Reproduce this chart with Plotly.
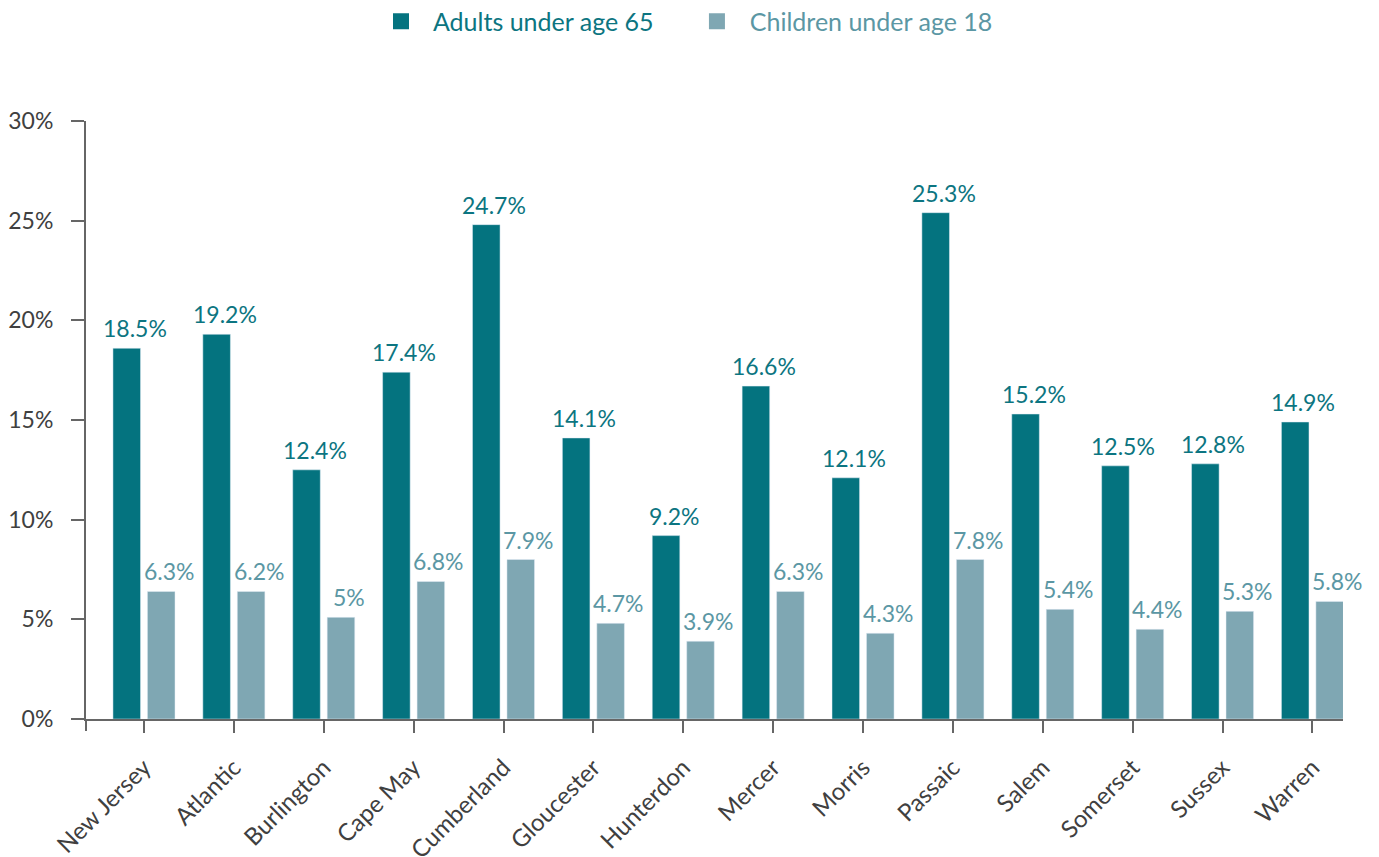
import plotly.graph_objects as go

categories = ["New Jersey", "Atlantic", "Burlington", "Cape May", "Cumberland", "Gloucester",
              "Hunterdon", "Mercer", "Morris", "Passaic", "Salem", "Somerset", "Sussex", "Warren"]
adults = [18.6, 19.3, 12.5, 17.4, 24.8, 14.1, 9.2, 16.7, 12.1, 25.4, 15.3, 12.7, 12.8, 14.9]
children = [6.4, 6.4, 5.1, 6.9, 8.0, 4.8, 3.9, 6.4, 4.3, 8.0, 5.5, 4.5, 5.4, 5.9]
adults_labels = ["18.5%", "19.2%", "12.4%", "17.4%", "24.7%", "14.1%", "9.2%", "16.6%",
                 "12.1%", "25.3%", "15.2%", "12.5%", "12.8%", "14.9%"]
children_labels = ["6.3%", "6.2%", "5%", "6.8%", "7.9%", "4.7%", "3.9%", "6.3%",
                   "4.3%", "7.8%", "5.4%", "4.4%", "5.3%", "5.8%"]
y_ticks = [0, 5, 10, 15, 20, 25, 30]

C_ADULT = "#04737f"
C_CHILD = "#7fa7b3"
T_ADULT = "#0c7581"
T_CHILD = "#5b97a4"
AXIS = "#666666"
FONT = "Lato"

W, H = 1379, 857
ML, MR, MT, MB = 86, 36, 121, 138
X_RANGE = [-0.645, 13.34]
BARGAP = 0.233
GROUPGAP = 0.2
px_per_cat = (W - ML - MR) / (X_RANGE[1] - X_RANGE[0])
slot = px_per_cat * (1 - BARGAP) / 2
LABEL_NUDGE = 8
plot_h = H - MT - MB

fig = go.Figure()
fig.add_trace(go.Bar(x=categories, y=adults, name="Adults under age 65",
                     marker_color=C_ADULT, showlegend=False))
fig.add_trace(go.Bar(x=categories, y=children, name="Children under age 18",
                     marker_color=C_CHILD, showlegend=False))

# legend entries
NB = "\u00a0"
fig.add_trace(go.Scatter(
    x=[None], y=[None], mode="markers", marker=dict(symbol="square", size=16, color=C_ADULT),
    name="<span style='color:%s'>%sAdults under age 65%s</span>" % (T_ADULT, NB * 2, NB * 6)))
fig.add_trace(go.Scatter(
    x=[None], y=[None], mode="markers", marker=dict(symbol="square", size=16, color=C_CHILD),
    name="<span style='color:%s'>%sChildren under age 18</span>" % (T_CHILD, NB * 2)))

annotations = []
for cat, v, t in zip(categories, adults, adults_labels):
    annotations.append(dict(x=cat, y=v, text=t, showarrow=False, yanchor="bottom",
                            xshift=-slot / 2 + LABEL_NUDGE, yshift=4,
                            font=dict(size=23, color=T_ADULT, family=FONT)))
for cat, v, t in zip(categories, children, children_labels):
    annotations.append(dict(x=cat, y=v, text=t, showarrow=False, yanchor="bottom",
                            xshift=slot / 2 + LABEL_NUDGE, yshift=4,
                            font=dict(size=23, color=T_CHILD, family=FONT)))

fig.update_layout(
    width=W, height=H,
    margin=dict(l=ML, r=MR, t=MT, b=MB),
    paper_bgcolor="white", plot_bgcolor="white",
    barmode="group", bargap=BARGAP, bargroupgap=GROUPGAP,
    font=dict(family=FONT, size=23, color="#404040"),
    annotations=annotations,
    shapes=[dict(type="line", xref="paper", yref="paper", x0=0, x1=0,
                 y0=0, y1=-12 / plot_h, line=dict(color=AXIS, width=2)),
            dict(type="line", xref="paper", yref="paper", x0=0, x1=-4 / (W - ML - MR),
                 y0=0, y1=0, line=dict(color=AXIS, width=2))],
    legend=dict(orientation="h", xref="container", yref="container",
                x=0.5, xanchor="center", y=0.975, yanchor="middle",
                font=dict(size=25, family=FONT), tracegroupgap=0,
                traceorder="normal"),
    xaxis=dict(range=X_RANGE, showline=True, linecolor=AXIS, linewidth=2,
               ticks="outside", ticklen=12, tickwidth=2, tickcolor=AXIS,
               tickangle=-45, ticklabelstandoff=11,
               tickfont=dict(size=24, color="#404040", family=FONT),
               showgrid=False, zeroline=False, automargin=False),
    yaxis=dict(range=[0, 30], tickvals=y_ticks, ticktext=[f"{v}%" for v in y_ticks],
               showline=True, linecolor=AXIS, linewidth=2,
               ticks="outside", ticklen=13, tickwidth=2, tickcolor=AXIS,
               ticklabelstandoff=13,
               tickfont=dict(size=23, color="#404040", family=FONT),
               showgrid=False, zeroline=False, automargin=False),
)

fig.write_html("out.html")
